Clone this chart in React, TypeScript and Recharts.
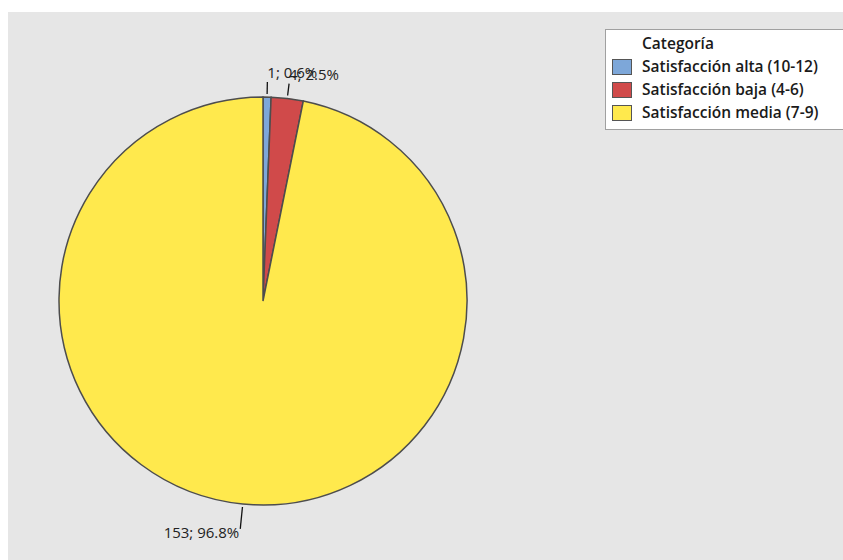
import React from "react";
import { PieChart, Pie, Cell, Legend } from "recharts";

const categories = [
  "Satisfacción alta (10-12)",
  "Satisfacción baja (4-6)",
  "Satisfacción media (7-9)",
];
const counts = [1, 4, 153];
const colors = ["#7DA7D9", "#D04A4A", "#FFE94D"];
const legendTitle = "Categoría";

const data = categories.map((name, i) => ({ name, value: counts[i] }));

const FONT = "'Open Sans', 'Noto Sans', sans-serif";
const RADIAN = Math.PI / 180;

const renderLabel = (props: any) => {
  const { cx, cy, midAngle, outerRadius, value, percent } = props;
  const c = Math.cos(-midAngle * RADIAN);
  const s = Math.sin(-midAngle * RADIAN);
  const above = s < 0;
  const r1 = outerRadius + 3;
  const r2 = outerRadius + (above ? 15 : 25);
  const x1 = cx + r1 * c;
  const y1 = cy + r1 * s;
  const x2 = cx + r2 * c;
  const y2 = cy + r2 * s;
  const text = `${value}; ${(percent * 100).toFixed(1)}%`;
  return (
    <g>
      <line x1={x1} y1={y1} x2={x2} y2={y2} stroke="#111" strokeWidth={1.3} />
      <text
        x={above ? x2 : x2 - 1}
        y={above ? y2 - 4 : y2 + 9}
        textAnchor={above ? "start" : "end"}
        fill="#222"
        fontSize={15}
        fontFamily={FONT}
      >
        {text}
      </text>
    </g>
  );
};

const LegendBox = () => (
  <div
    style={{
      width: 240,
      height: 97,
      boxSizing: "content-box",
      background: "#ffffff",
      border: "1px solid #a0a0a0",
      fontFamily: FONT,
      fontSize: 15.5,
      fontWeight: 600,
      color: "#1a1a1a",
      paddingTop: 2,
    }}
  >
    <div style={{ height: 23, lineHeight: "23px", paddingLeft: 36 }}>
      {legendTitle}
    </div>
    {categories.map((cat, i) => (
      <div
        key={cat}
        style={{ height: 23, lineHeight: "23px", position: "relative", paddingLeft: 36, whiteSpace: "nowrap" }}
      >
        <span
          style={{
            position: "absolute",
            left: 6,
            top: 4,
            width: 18,
            height: 14,
            background: colors[i],
            border: "1px solid #555",
          }}
        />
        {cat}
      </div>
    ))}
  </div>
);

export default function App() {
  return (
    <div
      style={{
        position: "fixed",
        left: 8,
        top: 12,
        width: 835,
        height: 548,
        background: "#e6e6e6",
        overflow: "hidden",
      }}
    >
      <PieChart width={835} height={548} margin={{ top: 0, right: 0, bottom: 0, left: 0 }}>
        <Pie
          data={data}
          dataKey="value"
          nameKey="name"
          cx={255}
          cy={289}
          outerRadius={204}
          startAngle={90}
          endAngle={-270}
          stroke="#4d4d4d"
          strokeWidth={1.5}
          label={renderLabel}
          labelLine={false}
          isAnimationActive={false}
        >
          {data.map((d, i) => (
            <Cell key={d.name} fill={colors[i]} />
          ))}
        </Pie>
        <Legend
          content={() => <LegendBox />}
          wrapperStyle={{ left: 597, top: 17, width: 242 }}
        />
      </PieChart>
    </div>
  );
}
